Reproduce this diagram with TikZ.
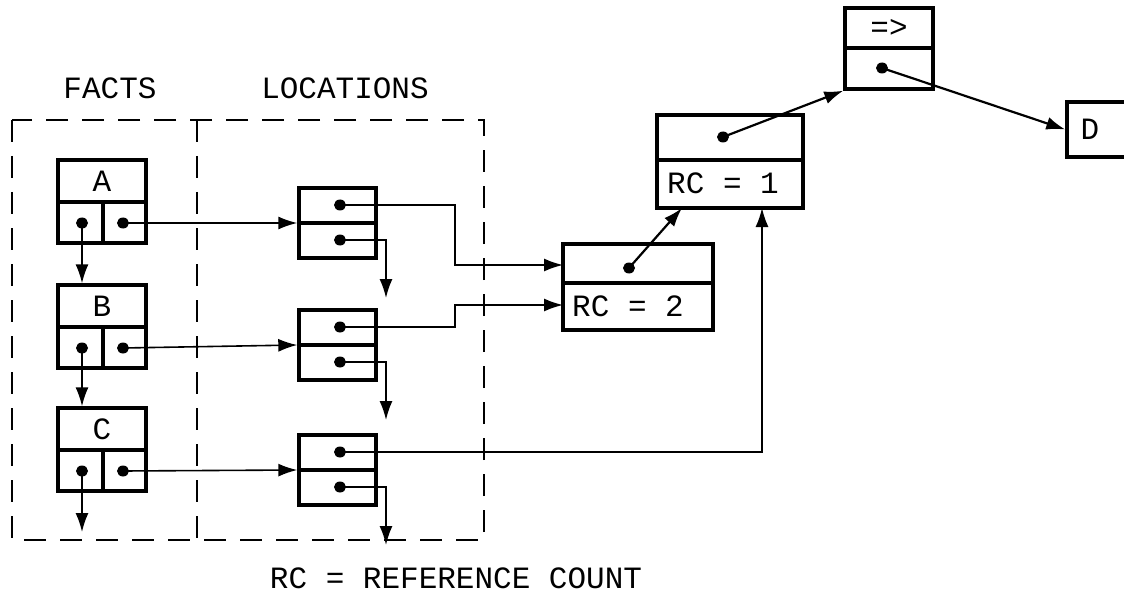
\documentclass[tikz,border=0pt]{standalone}
\usepackage{fontspec}
\setmonofont{Liberation Mono}
\usetikzlibrary{arrows.meta,shapes.geometric}
\begin{document}
\begin{tikzpicture}[x=1pt,y=-1pt,
  txt/.style={font=\fontsize{31}{36}\selectfont\ttfamily, inner sep=0pt},
  cell/.style={draw, line width=3.4pt, inner sep=0pt},
  divider/.style={line width=3.4pt},
  dot/.style={ellipse, fill, inner sep=0pt, minimum width=12pt, minimum height=11pt},
  conn/.style={line width=1.6pt},
  tip/.style={-{Latex[length=19pt,width=13pt]}},
  dashframe/.style={line width=1.8pt, dash pattern=on 22pt off 14pt}]
\useasboundingbox (0,0) rectangle (1124,596);
% frames
\draw[dashframe] (12,120) rectangle (484,540);
\draw[dashframe] (197,120) -- (197,540);
\node[txt] (lfacts) at (110,88) {FACTS};
\node[txt] (lloc) at (345,88) {LOCATIONS};
\node[txt] (legend) at (456,578) {RC = REFERENCE COUNT};
% fact boxes
\foreach \n/\y/\lab in {A/160/A,B/285/B,C/408/C}{
  \node[cell, minimum width=88pt, minimum height=83pt] (\n) at (102,\y+41.5) {};
  \draw[divider] (58,\y+42) -- (146,\y+42);
  \draw[divider] (103,\y+42) -- (103,\y+83);
  \node[txt] (\n lab) at (102,\y+21) {\lab};
  \node[dot] (\n l) at (82,\y+63) {};
  \node[dot] (\n r) at (123,\y+63) {};
}
% location boxes
\foreach \n/\y in {L1/223,L2/345,L3/470}{
  \node[cell, minimum width=77pt, minimum height=70pt] (\n) at (337.5,\y) {};
  \draw[divider] (\n.west) -- (\n.east);
  \node[dot] (\n u) at (340,\y-18) {};
  \node[dot] (\n d) at (340,\y+17) {};
  \coordinate (\n end) at (386,\y+75);
}
% RC boxes
\node[cell, minimum width=150pt, minimum height=86pt] (RC2) at (638,287) {};
\draw[divider] (563,283) -- (713,283);
\node[dot] (RC2d) at (629,268) {};
\node[txt, anchor=west] (RC2lab) at (572,306) {RC = 2};
\node[cell, minimum width=146pt, minimum height=93pt] (RC1) at (730,161.5) {};
\draw[divider] (657,160) -- (803,160);
\node[dot] (RC1d) at (723,137) {};
\node[txt, anchor=west] (RC1lab) at (667,183) {RC = 1};
% implies box
\node[cell, minimum width=88pt, minimum height=81pt] (EQ) at (889,48.5) {};
\draw[divider] (845,48) -- (933,48);
\node[txt] (EQlab) at (889,28) {=>};
\node[dot] (EQd) at (882,68) {};
% D box
\node[cell, minimum width=66pt, minimum height=55pt] (D) at (1100,129.5) {};
\node[txt] (Dlab) at (1090,129) {D};
% coordinates
\coordinate (rc2a) at (563,265);
\coordinate (rc2b) at (563,305);
\coordinate (rc1a) at (682,208);
\coordinate (rc1b) at (762,208);
\coordinate (Cend) at (82,532);
% fact connectors
\draw[conn,tip] (Al.center) -- (B.north -| Al);
\draw[conn,tip] (Bl.center) -- (C.north -| Bl);
\draw[conn,tip] (Cl.center) -- (Cend);
\draw[conn,tip] (Ar.center) -- (L1.west);
\draw[conn,tip] (Br.center) -- (L2.west);
\draw[conn,tip] (Cr.center) -- (L3.west);
% location connectors
\draw[conn,tip] (L1u.center) -- (455,205) |- (rc2a);
\draw[conn,tip] (L2u.center) -- (455,327) |- (rc2b);
\draw[conn,tip] (L3u.center) -| (rc1b);
\foreach \n in {L1,L2,L3}{
  \draw[conn,tip] (\n d.center) -| (\n end);
}
% upper connectors
\draw[line width=2.2pt,tip] (RC2d.center) -- (rc1a);
\draw[line width=2.2pt,tip] (RC1d.center) -- (EQ.south west);
\draw[line width=2.2pt,tip] (EQd.center) -- (D.west);
\end{tikzpicture}
\end{document}
